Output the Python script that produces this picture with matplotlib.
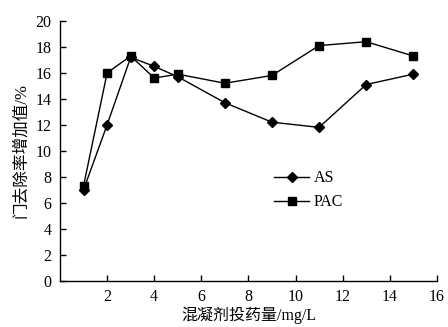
import matplotlib
matplotlib.use('agg')
import matplotlib.pyplot as plt

plt.rcParams['font.family'] = ['Liberation Serif', 'Noto Sans CJK SC']

dose = [1, 2, 3, 4, 5, 7, 9, 11, 13, 15]
as_values = [7.0, 12.0, 17.2, 16.5, 15.7, 13.7, 12.2, 11.8, 15.1, 15.9]
pac_values = [7.3, 16.0, 17.3, 15.6, 15.9, 15.2, 15.8, 18.1, 18.4, 17.3]
x_ticks = [2, 4, 6, 8, 10, 12, 14, 16]
y_ticks = [0, 2, 4, 6, 8, 10, 12, 14, 16, 18, 20]

fig = plt.figure(figsize=(4.48, 3.27), dpi=100)
ax = fig.add_axes([0.134, 0.142, 0.841, 0.794])

ax.plot(dose, as_values, color='black', lw=1, marker='D', ms=5.5, label='AS')
ax.plot(dose, pac_values, color='black', lw=1, marker='s', ms=6, label='PAC')

ax.set_xlim(0, 16)
ax.set_ylim(0, 20)
ax.set_xticks(x_ticks)
ax.set_yticks(y_ticks)
ax.tick_params(direction='in', length=4, width=1, labelsize=11.5, pad=6)
for side in ['top', 'right']:
    ax.spines[side].set_visible(False)
for side in ['left', 'bottom']:
    ax.spines[side].set_linewidth(1)

ax.set_xlabel('混凝剂投药量/mg/L', fontsize=11.5, labelpad=1)
ax.set_ylabel('门去除率增加值/%', fontsize=12, labelpad=5)

ax.legend(frameon=False, loc='upper left', bbox_to_anchor=(0.53, 0.48),
          fontsize=11.5, handlelength=2.2, handletextpad=0.3, labelspacing=0.5)

fig.savefig('out.png', dpi=100)
